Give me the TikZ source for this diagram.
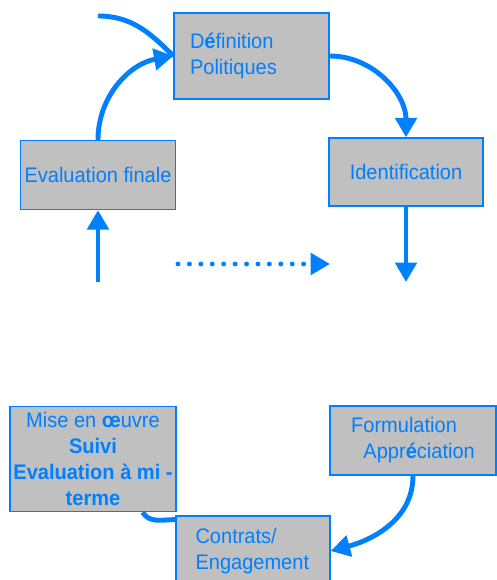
\documentclass[tikz,border=0pt]{standalone}
\usepackage{fontspec}
\setmainfont{Liberation Sans}[FakeStretch=0.95]
\usetikzlibrary{arrows.meta, positioning}
\definecolor{cblue}{RGB}{0,128,255}
\definecolor{cgray}{RGB}{192,192,192}

\begin{document}
\begin{tikzpicture}[
    x=0.02cm, y=0.02cm,
    stage/.style={draw=cblue, fill=cgray, line width=0.8pt, inner sep=0pt, text=cblue, font=\fontsize{12}{14.8}\selectfont},
    flow/.style={draw=cblue, line width=2.8pt, -{Triangle[length=11pt, width=12pt]}},
    link/.style={draw=cblue, line width=2.8pt},
    dots/.style={draw=cblue, line width=2.8pt, line cap=round, dash pattern=on 0pt off 6.5pt, -{Triangle[length=11pt, width=12pt]}}
]
\useasboundingbox (0,0) rectangle (496,580);

% Nodes
\node[stage, minimum height=1.72cm, text width=2.46cm, inner xsep=0.32cm, align=left] (def) at (251.5, 524) {D\textbf{é}finition\\Politiques};
\node[stage, minimum width=3.1cm, minimum height=1.38cm] (eval) at (98, 405) {Evaluation finale};
\node[stage, minimum width=3.08cm, minimum height=1.36cm] (ident) at (406, 408) {Identification};

\node[stage, minimum width=3.32cm, minimum height=2.1cm, align=center] (mise) at (93, 121) {Mise en \textbf{œ}uvre\\\textbf{Suivi}\\\textbf{Evaluation à mi -}\\\textbf{terme}};
\node[stage, minimum width=3.32cm, minimum height=1.38cm, align=left] (form) at (413, 139.5) {Formulation\\\hspace*{7pt}Appr\textbf{é}ciation};
\node[stage, minimum height=1.4cm, text width=2.3cm, inner xsep=0.39cm, align=left] (contrats) at (253, 29) {Contrats/\\Engagement};

% Free ends
\coordinate (entry) at (98, 564);
\coordinate (evalin) at (98, 298);
\coordinate (identout) at (406, 298);
\coordinate (dotstart) at (178, 316);
\coordinate (dotend) at (330, 316);

% Connectors
\draw[link] (entry) to[out=0, in=135] (def.west);
\draw[flow] (eval.north) to[out=90, in=190] (def.west);
\draw[flow] (def.east) to[out=0, in=90] (ident.north);
\draw[flow] (ident.south) -- (identout);
\draw[flow] (evalin) -- (eval.south);
\draw[dots] (dotstart) -- (dotend);

\draw[flow] (form.south) to[out=-90, in=15] (contrats.east);
\draw[link] (mise.-47) to[out=-60, in=180] (contrats.158);

\end{tikzpicture}
\end{document}
